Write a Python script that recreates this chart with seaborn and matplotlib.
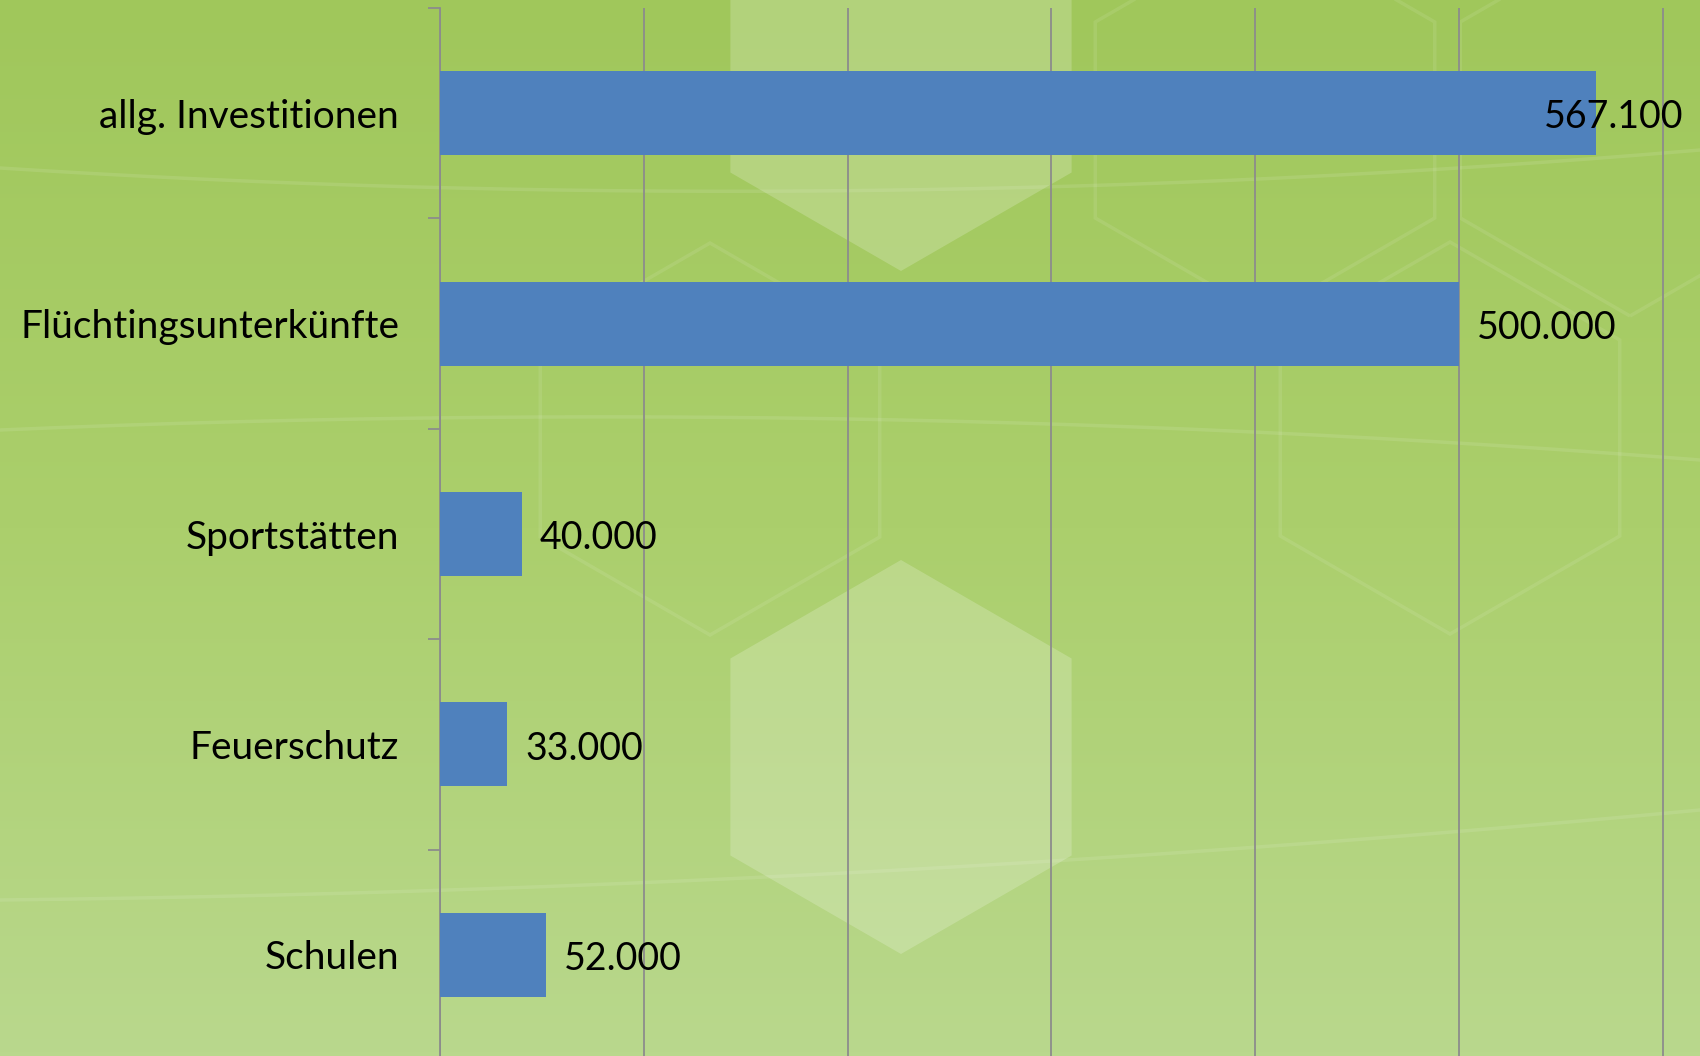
import numpy as np
import matplotlib.pyplot as plt
import seaborn as sns
from matplotlib.patches import RegularPolygon
from matplotlib.colors import LinearSegmentedColormap

# data
categories = ["allg. Investitionen", "Flüchtingsunterkünfte", "Sportstätten", "Feuerschutz", "Schulen"]
values = [567100, 500000, 40000, 33000, 52000]
value_labels = ["567.100", "500.000", "40.000", "33.000", "52.000"]
grid_ticks = [0, 100000, 200000, 300000, 400000, 500000, 600000]

sns.set_style("white")
plt.rcParams['font.family'] = ['Lato', 'DejaVu Sans']

W, H = 1700, 1056
fig = plt.figure(figsize=(W / 100, H / 100), dpi=100)

# background: green gradient with light honeycomb decoration
bg = fig.add_axes([0, 0, 1, 1])
bg.set_xlim(0, W)
bg.set_ylim(H, 0)
bg.axis('off')
cmap = LinearSegmentedColormap.from_list('bg', ['#a0c75b', '#abcf6c', '#b9d88d'])
grad = np.linspace(0, 1, 256).reshape(-1, 1)
bg.imshow(grad, cmap=cmap, extent=[0, W, H, 0], aspect='auto', zorder=0)

for cx, cy in [(901, 74), (901, 757)]:
    bg.add_patch(RegularPolygon((cx, cy), 6, radius=197, orientation=0,
                                facecolor='white', alpha=0.2, edgecolor='none', zorder=1))
for cx, cy in [(710, 439), (1265, 120), (1450, 438), (1630, 120)]:
    bg.add_patch(RegularPolygon((cx, cy), 6, radius=196, orientation=0,
                                facecolor='none', edgecolor='white', alpha=0.09, lw=2.5, zorder=1))

xs = np.linspace(0, W, 200)
for pts in [[(0, 168), (900, 190), (1700, 150)],
            [(0, 430), (900, 420), (1700, 460)],
            [(0, 900), (900, 870), (1700, 810)]]:
    px, py = zip(*pts)
    coef = np.polyfit(px, py, 2)
    bg.plot(xs, np.polyval(coef, xs), color='white', alpha=0.1, lw=2.5, zorder=1)

# chart
ax = fig.add_axes([440 / W, -4 / H, (W - 440) / W, 1052 / H])
ax.set_facecolor('none')
sns.barplot(x=values, y=categories, orient='h', color='#4f81bd', width=0.4,
            linewidth=0, saturation=1, ax=ax, zorder=3)

xmax = (W - 440) / 203.8 * 100000
ax.set_xlim(0, xmax)
ax.set_ylim(4.5, -0.5)
ax.set_xticks(grid_ticks)
ax.set_xticklabels([])
ax.tick_params(axis='x', length=0)
ax.xaxis.grid(True, color='#8c8c8c', lw=1.3)
ax.set_axisbelow(True)
ax.set_xlabel('')
ax.set_ylabel('')

for s in ['top', 'right', 'bottom']:
    ax.spines[s].set_visible(False)
ax.spines['left'].set_color('#8c8c8c')
ax.spines['left'].set_linewidth(1.3)

ax.set_yticks(np.arange(-0.5, 5, 1), minor=True)
ax.tick_params(axis='y', which='minor', length=9, width=1.3, color='#8c8c8c', left=True)
ax.tick_params(axis='y', which='major', length=0, pad=29.5, labelsize=28, labelcolor='black')

for i, (v, lab) in enumerate(zip(values, value_labels)):
    if v > 0.85 * xmax:
        ax.annotate(lab, xy=(1, i), xycoords=('axes fraction', 'data'),
                    xytext=(-12, -3), textcoords='offset points',
                    ha='right', va='center', fontsize=27, color='black', zorder=5)
    else:
        ax.annotate(lab, xy=(v, i), xytext=(13, -3), textcoords='offset points',
                    ha='left', va='center', fontsize=27, color='black', zorder=5)

fig.savefig('out.png', dpi=100)
